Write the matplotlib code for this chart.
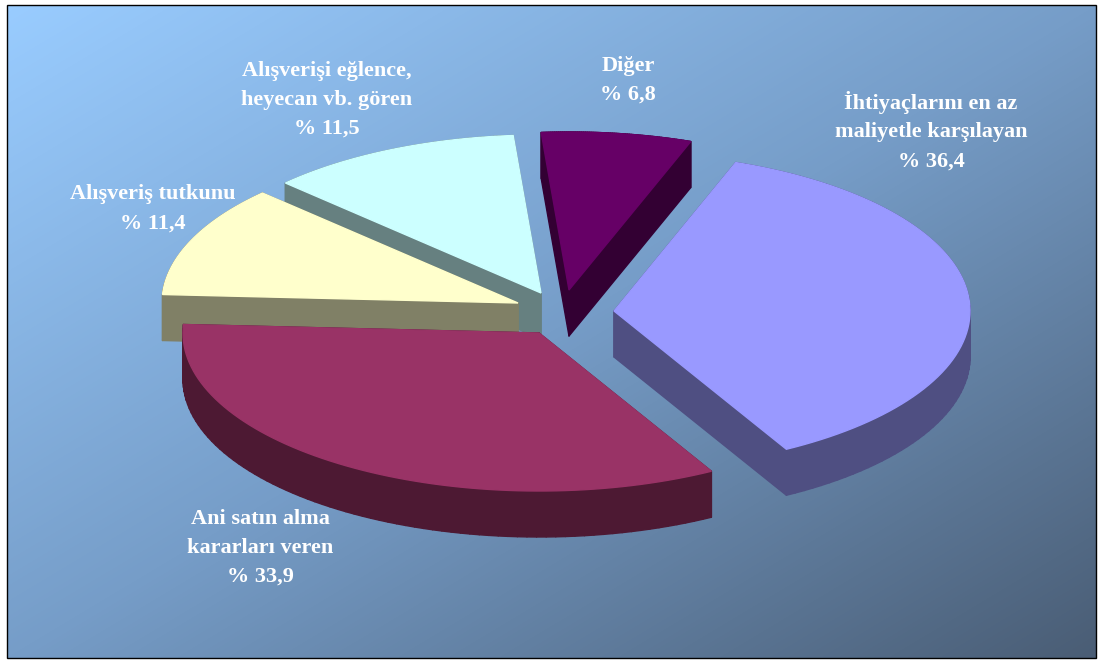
import numpy as np
import matplotlib
matplotlib.use("Agg")
import matplotlib.pyplot as plt
from matplotlib.patches import Polygon, Rectangle
from matplotlib.colors import LinearSegmentedColormap

labels = ["İhtiyaçlarını en az\nmaliyetle karşılayan", "Ani satın alma\nkararları veren",
          "Alışveriş tutkunu", "Alışverişi eğlence,\nheyecan vb. gören", "Diğer"]
values = [36.4, 33.9, 11.4, 11.5, 6.8]
top_colors = ["#9999FF", "#993366", "#FFFFCC", "#CCFFFF", "#660066"]
side_colors = ["#4F4F82", "#4D1933", "#808066", "#668080", "#330033"]
offsets = [(59, 1), (-16, 23), (-37, -7), (-14, -17), (14, -20)]
label_pos = [(931, 131), (260, 548), (153, 209), (327, 100), (628, 80)]
draw_order = [4, 3, 2, 0, 1]

W, H = 1104, 660
CENTER = (555, 310)
RX, RY, DEPTH = 356, 158, 46
START = 70

fig = plt.figure(figsize=(W / 100, H / 100), dpi=100, facecolor="white")
ax = fig.add_axes([0, 0, 1, 1])
ax.set_xlim(0, W)
ax.set_ylim(H, 0)
ax.axis("off")

L, T, R, B = 7, 5, 1096, 658
xx, yy = np.meshgrid(np.linspace(0, 1, 300), np.linspace(0, 1, 200))
cmap = LinearSegmentedColormap.from_list("bg", ["#99CCFF", "#769DC8", "#4A5D75"])
ax.imshow((xx + yy) / 2, cmap=cmap, vmin=0, vmax=1, extent=(L, R, B, T),
          aspect="auto", interpolation="bilinear", zorder=0)
ax.add_patch(Rectangle((L, T), R - L, B - T, fill=False, ec="black", lw=1.0, zorder=1))

fracs = np.array(values) / sum(values) * 360
ends = START - np.cumsum(fracs)
starts = ends + fracs

z = 2
for i in draw_order:
    cx = CENTER[0] + offsets[i][0]
    cy = CENTER[1] + offsets[i][1]
    t = np.radians(np.linspace(starts[i], ends[i], 80))
    xs = np.r_[cx, cx + RX * np.cos(t)]
    ys = np.r_[cy, cy - RY * np.sin(t)]
    n = len(xs)
    for k in range(n):
        j = (k + 1) % n
        quad = [(xs[k], ys[k]), (xs[j], ys[j]), (xs[j], ys[j] + DEPTH), (xs[k], ys[k] + DEPTH)]
        ax.add_patch(Polygon(quad, closed=True, fc=side_colors[i], ec=side_colors[i], lw=1.0,
                             joinstyle="round", zorder=z))
    z += 1
    ax.add_patch(Polygon(np.c_[xs, ys], closed=True, fc=top_colors[i], ec=top_colors[i], lw=1.0, zorder=z))
    z += 1

for lab, val, (x, y) in zip(labels, values, label_pos):
    txt = f"{lab}\n% {str(val).replace('.', ',')}"
    ax.text(x, y, txt, color="white", family="Liberation Serif", weight="bold", fontsize=16,
            ha="center", va="center", linespacing=1.6, multialignment="center", zorder=50)

fig.savefig("out.png", dpi=100)
